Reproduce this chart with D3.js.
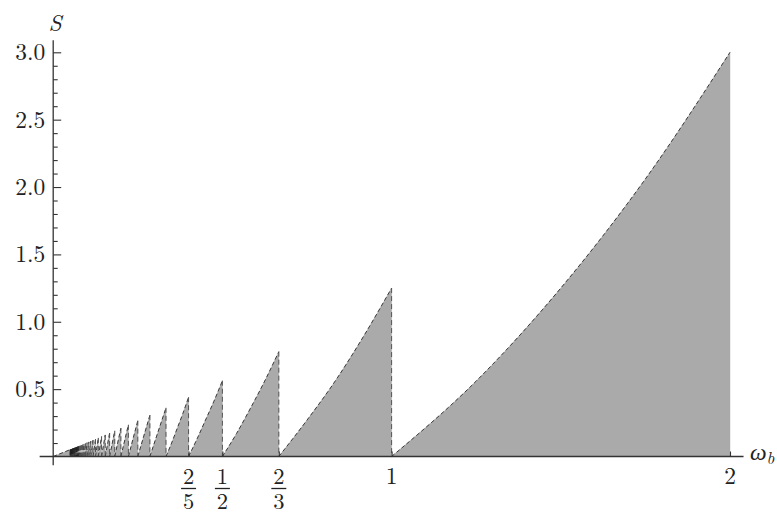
<!DOCTYPE html>
<html>
<head>
<meta charset="utf-8">
<script src="https://cdn.jsdelivr.net/npm/d3@7/dist/d3.min.js"></script>
<style>
  html, body { margin: 0; padding: 0; background: #fff; }
  svg { display: block; }
</style>
</head>
<body>
<svg id="chart" width="777" height="513"></svg>
<script>
// ---- Data ----
// Right end (omega_b) of each sawtooth, where S peaks and then drops to 0 (dashed line)
const teethRight = [2, 1, 0.6667, 0.5, 0.4, 0.3333, 0.2857, 0.25, 0.2222, 0.2,
  0.1818, 0.1667, 0.1538, 0.1429, 0.1333, 0.125, 0.1176, 0.1111, 0.1053, 0.1,
  0.0952, 0.0909, 0.087, 0.0833, 0.08, 0.0769, 0.0741, 0.0714, 0.069, 0.0667,
  0.0645, 0.0625, 0.0606, 0.0588, 0.0571, 0.0556, 0.0541, 0.0526, 0.0513, 0.05];
// Peak value of S at the right end of each tooth
const teethPeak = [3.0, 1.25, 0.778, 0.5625, 0.44, 0.361, 0.306, 0.266, 0.235, 0.21,
  0.19, 0.174, 0.16, 0.148, 0.138, 0.129, 0.121, 0.114, 0.108, 0.1025,
  0.0975, 0.093, 0.0888, 0.0851, 0.0816, 0.0784, 0.0754, 0.0727, 0.0702, 0.0678,
  0.0656, 0.0635, 0.0615, 0.0597, 0.058, 0.0563, 0.0548, 0.0533, 0.0519, 0.0506];
// S at five evenly spaced omega_b across each of the largest teeth (left end -> right end)
const teethProfile = [
  [0, 0.56, 1.25, 2.06, 3.0],
  [0, 0.27, 0.56, 0.89, 1.25],
  [0, 0.17, 0.36, 0.56, 0.778],
  [0, 0.13, 0.27, 0.41, 0.5625],
  [0, 0.10, 0.21, 0.32, 0.44]
];
// Axis ticks
const yMajorTicks = [0.5, 1.0, 1.5, 2.0, 2.5, 3.0];
const yMinorTicks = [0.1,0.2,0.3,0.4,0.6,0.7,0.8,0.9,1.1,1.2,1.3,1.4,1.6,1.7,1.8,1.9,2.1,2.2,2.3,2.4,2.6,2.7,2.8,2.9];
const xTicks = [0.4, 0.5, 0.6667, 1, 2];
const xTickLabels = [["2","5"], ["1","2"], ["2","3"], ["1"], ["2"]];

// ---- Drawing ----
const FONT = "'Latin Modern Roman', 'Liberation Serif', serif";
const FS = 23.5;
const FSF = 22.5;
const svg = d3.select("#chart");
const x = d3.scaleLinear().domain([0, 2]).range([53.2, 730]);
const y = d3.scaleLinear().domain([0, 3]).range([456.5, 52.3]);

const fillColor = "#aaaaaa";
const gTeeth = svg.append("g");

const teeth = teethRight.map((right, i) => {
  const left = i < teethRight.length - 1 ? teethRight[i + 1] : 0;
  let pts;
  if (i < teethProfile.length) {
    const prof = teethProfile[i];
    pts = prof.map((s, k) => [left + (right - left) * k / (prof.length - 1), s]);
  } else {
    pts = [[left, 0], [right, teethPeak[i]]];
  }
  return { left, right, peak: teethPeak[i], pts, i };
});

const area = d3.area().x(d => x(d[0])).y0(y(0)).y1(d => y(d[1])).curve(d3.curveMonotoneX);
const line = d3.line().x(d => x(d[0])).y(d => y(d[1])).curve(d3.curveMonotoneX);

gTeeth.selectAll("path.fill").data(teeth).join("path")
  .attr("class", "fill")
  .attr("d", d => area(d.pts))
  .attr("fill", fillColor)
  .attr("stroke", fillColor)
  .attr("stroke-width", 0.4);

gTeeth.selectAll("path.edge").data(teeth).join("path")
  .attr("class", "edge")
  .attr("d", d => line(d.pts))
  .attr("fill", "none")
  .attr("stroke", "#3a3a3a")
  .attr("stroke-width", 1)
  .attr("stroke-dasharray", "4,2.5");

gTeeth.selectAll("line.drop").data(teeth.filter(d => d.i > 0)).join("line")
  .attr("class", "drop")
  .attr("x1", d => x(d.right)).attr("x2", d => x(d.right))
  .attr("y1", d => y(d.peak)).attr("y2", y(0))
  .attr("stroke", d => d.i > 25 ? "#222" : "#555")
  .attr("stroke-width", 1)
  .attr("stroke-dasharray", "5,3");

// Axes lines
const axisColor = "#333";
svg.append("line")
  .attr("x1", x(-0.04)).attr("x2", x(2.04))
  .attr("y1", y(0)).attr("y2", y(0))
  .attr("stroke", axisColor).attr("stroke-width", 1.3);
svg.append("line")
  .attr("x1", x(0)).attr("x2", x(0))
  .attr("y1", y(-0.065)).attr("y2", y(3.09))
  .attr("stroke", axisColor).attr("stroke-width", 1.3);

// y ticks (pointing right, into the plot)
const yMinorAxis = svg.append("g").attr("transform", `translate(${x(0)},0)`)
  .call(d3.axisRight(y).tickValues(yMinorTicks).tickSize(4.5).tickFormat(""));
const yMajorAxis = svg.append("g").attr("transform", `translate(${x(0)},0)`)
  .call(d3.axisRight(y).tickValues(yMajorTicks).tickSize(8).tickFormat(""));
[yMinorAxis, yMajorAxis].forEach(g => {
  g.select(".domain").remove();
  g.selectAll(".tick line").attr("stroke", axisColor).attr("stroke-width", 1.1);
});
// y labels
const yLabelAxis = svg.append("g").attr("transform", `translate(${x(0)},0)`)
  .call(d3.axisLeft(y).tickValues(yMajorTicks).tickSize(0).tickPadding(8).tickFormat(d3.format(".1f")));
yLabelAxis.attr("font-family", FONT).attr("font-size", FS);
yLabelAxis.select(".domain").remove();
yLabelAxis.selectAll(".tick text")
  .attr("font-family", FONT)
  .attr("font-size", FS)
  .attr("fill", "#222")
  .attr("dy", "0.32em");

// x ticks (pointing up)
const xAxisG = svg.append("g").attr("transform", `translate(0,${y(0)})`)
  .call(d3.axisTop(x).tickValues(xTicks).tickSize(5).tickFormat(""));
xAxisG.select(".domain").remove();
xAxisG.selectAll(".tick line").attr("stroke", axisColor).attr("stroke-width", 1.1);

// x labels (integers and stacked fractions)
const xl = svg.append("g");
xTicks.forEach((v, i) => {
  const lab = xTickLabels[i];
  const cx = x(v);
  if (lab.length === 1) {
    xl.append("text").attr("x", cx).attr("y", 483.5).attr("font-family", FONT).attr("fill", "#222")
      .attr("text-anchor", "middle").attr("font-size", FS).text(lab[0]);
  } else {
    xl.append("text").attr("x", cx).attr("y", 484).attr("font-family", FONT).attr("fill", "#222")
      .attr("text-anchor", "middle").attr("font-size", FSF).text(lab[0]);
    xl.append("line").attr("x1", cx - 7.5).attr("x2", cx + 7.5)
      .attr("y1", 488.5).attr("y2", 488.5)
      .attr("stroke", "#222").attr("stroke-width", 1.3);
    xl.append("text").attr("x", cx).attr("y", 508.5).attr("font-family", FONT).attr("fill", "#222")
      .attr("text-anchor", "middle").attr("font-size", FSF).text(lab[1]);
  }
});

// Axis titles
svg.append("text").attr("x", 55).attr("y", 31).attr("font-family", FONT).attr("fill", "#222")
  .attr("text-anchor", "middle").attr("font-size", FS).attr("font-style", "italic").text("S");
const wt = svg.append("text").attr("x", 750).attr("y", 460).attr("font-family", FONT).attr("fill", "#222")
  .attr("font-size", FS).attr("font-style", "italic");
wt.append("tspan").text("ω");
wt.append("tspan").attr("font-size", 17).attr("dy", 4).text("b");
</script>
</body>
</html>
